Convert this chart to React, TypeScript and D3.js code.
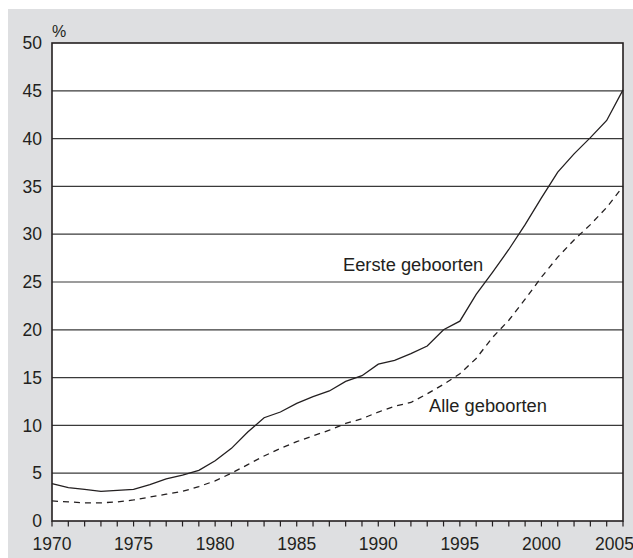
import {useEffect, useRef} from 'react';
import * as d3 from 'd3';

const years = d3.range(1970, 2006);
const eersteGeboorten = [
  3.9, 3.5, 3.3, 3.1, 3.2, 3.3, 3.8, 4.4, 4.8, 5.3, 6.3, 7.6, 9.3, 10.8, 11.4, 12.3, 13.0, 13.6,
  14.6, 15.2, 16.4, 16.8, 17.5, 18.3, 20.0, 20.9, 23.7, 26.0, 28.4, 31.0, 33.8, 36.5, 38.4, 40.1,
  41.9, 45.1,
];
const alleGeboorten = [
  2.1, 2.0, 1.9, 1.9, 2.0, 2.2, 2.5, 2.8, 3.1, 3.6, 4.2, 5.0, 5.9, 6.8, 7.6, 8.3, 8.9, 9.5, 10.2,
  10.7, 11.4, 12.0, 12.4, 13.3, 14.3, 15.4, 17.0, 19.2, 21.0, 23.2, 25.5, 27.6, 29.4, 31.0, 32.8,
  35.0,
];
const yTicks = [0, 5, 10, 15, 20, 25, 30, 35, 40, 45, 50];
const xLabels = [1970, 1975, 1980, 1985, 1990, 1995, 2000, 2005];

export default function App() {
  const svgRef = useRef<SVGSVGElement>(null);

  useEffect(() => {
    if (!svgRef.current) return;
    const width = 633;
    const height = 558;
    const ink = '#231f20';
    const font = '"Liberation Sans", Arial, sans-serif';

    const svg = d3.select(svgRef.current);
    svg.selectAll('*').remove();
    svg.attr('width', width).attr('height', height);

    svg.append('rect').attr('x', 8).attr('y', 9).attr('width', width - 8).attr('height', height - 9).attr('fill', '#dedfe1');

    const x = d3.scaleLinear().domain([1970, 2005]).range([52, 623]);
    const y = d3.scaleLinear().domain([0, 50]).range([521, 43]);

    svg.append('rect')
      .attr('x', x(1970)).attr('y', y(50))
      .attr('width', x(2005) - x(1970)).attr('height', y(0) - y(50))
      .attr('fill', '#ffffff');

    // gridlines
    svg.append('g')
      .selectAll('line')
      .data(yTicks.slice(1, -1))
      .join('line')
      .attr('x1', x(1970)).attr('x2', x(2005))
      .attr('y1', (d) => y(d)).attr('y2', (d) => y(d))
      .attr('stroke', '#3a3a3a').attr('stroke-width', 1.2);

    // frame
    svg.append('rect')
      .attr('x', x(1970)).attr('y', y(50))
      .attr('width', x(2005) - x(1970)).attr('height', y(0) - y(50))
      .attr('fill', 'none').attr('stroke', ink).attr('stroke-width', 1.6);

    // x ticks
    svg.append('g')
      .selectAll('line')
      .data(years)
      .join('line')
      .attr('x1', (d) => x(d)).attr('x2', (d) => x(d))
      .attr('y1', y(0)).attr('y2', y(0) + 5.5)
      .attr('stroke', ink).attr('stroke-width', 1.2);

    svg.append('g')
      .selectAll('text')
      .data(xLabels)
      .join('text')
      .attr('x', (d) => (d === 2005 ? 634 : x(d)))
      .attr('y', 550)
      .attr('text-anchor', (d) => (d === 2005 ? 'end' : 'middle'))
      .attr('font-family', font).attr('font-size', 17.5).attr('fill', ink)
      .text((d) => d);

    svg.append('g')
      .selectAll('text')
      .data(yTicks)
      .join('text')
      .attr('x', 42)
      .attr('y', (d) => y(d) + 6.2)
      .attr('text-anchor', 'end')
      .attr('font-family', font).attr('font-size', 17.5).attr('fill', ink)
      .text((d) => d);

    svg.append('text')
      .attr('x', 52).attr('y', 37)
      .attr('font-family', font).attr('font-size', 16).attr('fill', ink)
      .text('%');

    const line = d3.line<number>().x((_, i) => x(years[i])).y((d) => y(d));

    svg.append('path')
      .attr('d', line(alleGeboorten))
      .attr('fill', 'none').attr('stroke', ink).attr('stroke-width', 1.3)
      .attr('stroke-dasharray', '6,5');

    svg.append('path')
      .attr('d', line(eersteGeboorten))
      .attr('fill', 'none').attr('stroke', ink).attr('stroke-width', 1.3);

    svg.append('text')
      .attr('x', 343).attr('y', 270.5)
      .attr('font-family', font).attr('font-size', 18.3).attr('fill', ink)
      .text('Eerste geboorten');

    svg.append('text')
      .attr('x', 429).attr('y', 412)
      .attr('font-family', font).attr('font-size', 18.3).attr('fill', ink)
      .text('Alle geboorten');
  }, []);

  return <svg ref={svgRef} style={{position: 'absolute', left: 0, top: 0, display: 'block'}} />;
}
